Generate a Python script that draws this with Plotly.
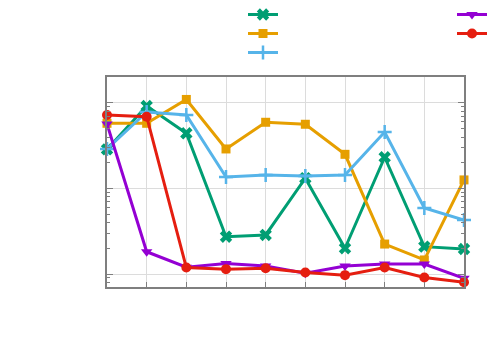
import plotly.graph_objects as go

x_vals = list(range(10))

green_vals = [28.7, 92.2, 44.2, 2.73, 2.86, 13.2, 2.0, 23.2, 2.09, 1.96]
orange_vals = [57.9, 57.9, 110, 29.0, 59.5, 56.4, 25.1, 2.24, 1.46, 12.6]
blue_vals = [29.0, 78.5, 72.4, 13.6, 14.4, 14.0, 14.4, 45.8, 5.92, 4.28]
purple_vals = [56.8, 1.82, 1.20, 1.33, 1.24, 1.02, 1.24, 1.31, 1.31, 0.89]
red_vals = [72.4, 69.2, 1.19, 1.14, 1.17, 1.04, 0.97, 1.19, 0.91, 0.80]

# (values, colour, marker, size, legend column)
series = [
    (green_vals, "#009e73", "x", 11, "legend"),
    (orange_vals, "#e69f00", "square", 9, "legend"),
    (blue_vals, "#56b4e9", "cross-thin", 10, "legend"),
    (purple_vals, "#9400d3", "triangle-down", 10, "legend2"),
    (red_vals, "#e51e10", "circle", 10, "legend2"),
]

fig = go.Figure()
for vals, col, sym, sz, leg in series:
    fig.add_trace(go.Scatter(
        x=x_vals, y=vals, mode="lines+markers", name="", legend=leg,
        line=dict(color=col, width=3),
        marker=dict(symbol=sym, size=sz, color=col,
                    line=dict(color=col, width=2.5 if sym == "cross-thin" else 0)),
        cliponaxis=False,
    ))

axcol = "#7f7f7f"
fig.update_xaxes(range=[0, 9], dtick=1, showticklabels=False, showgrid=True, gridcolor="#dcdcdc",
                 showline=True, linecolor=axcol, linewidth=1.5, mirror=True,
                 ticks="inside", ticklen=5, tickcolor=axcol, zeroline=False)
fig.update_yaxes(type="log", range=[-0.152, 2.304], dtick=1, showticklabels=False, showgrid=True,
                 gridcolor="#dcdcdc", showline=True, linecolor=axcol, linewidth=1.5, mirror="ticks",
                 ticks="inside", ticklen=6, tickcolor=axcol,
                 minor=dict(ticks="inside", ticklen=3, tickcolor=axcol, showgrid=False))

leg_style = dict(orientation="v", xref="container", yref="container", yanchor="top", y=1.0,
                 xanchor="left", tracegroupgap=0, font=dict(size=12), bgcolor="rgba(0,0,0,0)")
fig.update_layout(
    width=500, height=350, plot_bgcolor="white", paper_bgcolor="white",
    margin=dict(l=107, r=36, t=77, b=63, autoexpand=False),
    showlegend=True,
    legend=dict(leg_style, x=0.486),
    legend2=dict(leg_style, x=0.904),
)

# drop the browser's default body margin so the figure sits at the page corner
fig.write_html("out.html", config={"displayModeBar": False},
               post_script="document.body.style.margin='0';")
